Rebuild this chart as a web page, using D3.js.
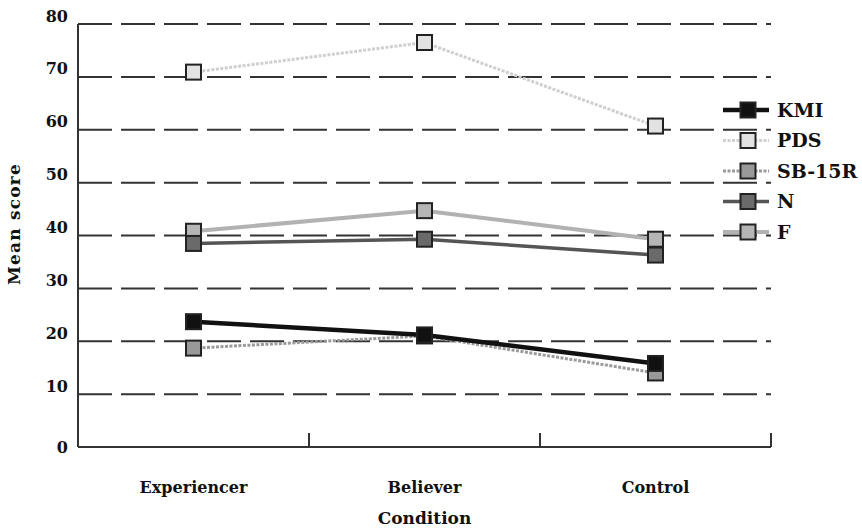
<!DOCTYPE html>
<html><head><meta charset="utf-8">
<script src="https://cdn.jsdelivr.net/npm/d3@7"></script>
<style>body{margin:0;background:#fff}svg{display:block}text{font-family:"DejaVu Serif",serif;font-weight:bold;fill:#111}</style>
</head><body><svg id="c" width="862" height="529"></svg>
<script>
const categories = ["Experiencer", "Believer", "Control"];
const seriesNames = ["KMI", "PDS", "SB-15R", "N", "F"];
const kmi   = [23.7, 21.2, 15.8];
const pds   = [70.9, 76.5, 60.7];
const sb15r = [18.7, 21.0, 14.0];
const nVals = [38.5, 39.3, 36.3];
const fVals = [40.8, 44.7, 39.3];
const yTicks = [0, 10, 20, 30, 40, 50, 60, 70, 80];
const xTitle = "Condition";
const yTitle = "Mean score";

const styles = {
  "KMI":    {line:"#111", w:4.5, dash:null,  fill:"#111"},
  "PDS":    {line:"#cfcfcf", w:3, dash:"3,1.5", fill:"#e2e2e2"},
  "SB-15R": {line:"#9a9a9a", w:3, dash:"3,1.5", fill:"#999"},
  "N":      {line:"#555", w:3.5, dash:null,  fill:"#6a6a6a"},
  "F":      {line:"#b2b2b2", w:4, dash:null, fill:"#b5b5b5"}
};
const seriesVals = {"KMI":kmi,"PDS":pds,"SB-15R":sb15r,"N":nVals,"F":fVals};
const drawOrder = ["PDS","F","N","SB-15R","KMI"];

const svg = d3.select("#c");
const x = d3.scaleBand().domain(categories).range([78, 771]);
const y = d3.scaleLinear().domain([0, 80]).range([447, 24]);

// gridlines
svg.append("g").selectAll("line").data(yTicks.filter(v => v > 0)).join("line")
  .attr("x1", 78).attr("x2", 771).attr("y1", d => y(d)).attr("y2", d => y(d))
  .attr("stroke", "#333").attr("stroke-width", 2).attr("stroke-dasharray", "34,9");

// y axis
svg.append("line").attr("x1", 78).attr("x2", 78).attr("y1", y(80)).attr("y2", y(0))
  .attr("stroke", "#333").attr("stroke-width", 2);
svg.append("g").selectAll("text").data(yTicks).join("text")
  .attr("x", 68).attr("y", d => y(d) + (d === 0 ? 0 : -8)).attr("dy", "0.35em")
  .attr("text-anchor", "end").attr("font-size", 16).text(d => d);

// x axis
svg.append("line").attr("x1", 78).attr("x2", 771).attr("y1", y(0)).attr("y2", y(0))
  .attr("stroke", "#333").attr("stroke-width", 2);
svg.append("g").selectAll("line").data(categories).join("line")
  .attr("x1", d => x(d) + x.bandwidth()).attr("x2", d => x(d) + x.bandwidth())
  .attr("y1", y(0) - 14).attr("y2", y(0))
  .attr("stroke", "#333").attr("stroke-width", 2);
svg.append("g").selectAll("text").data(categories).join("text")
  .attr("x", d => x(d) + x.bandwidth() / 2).attr("y", 493)
  .attr("text-anchor", "middle").attr("font-size", 16).text(d => d);
svg.append("text").attr("x", x("Believer") + x.bandwidth() / 2).attr("y", 524)
  .attr("text-anchor", "middle").attr("font-size", 17).text(xTitle);
svg.append("text").attr("transform", "translate(20,224) rotate(-90)")
  .attr("text-anchor", "middle").attr("font-size", 17).attr("letter-spacing", 1.2).text(yTitle);

// series
const line = d3.line().x((d, i) => x(categories[i]) + x.bandwidth() / 2).y(d => y(d));
const ms = 15;
drawOrder.forEach(name => {
  const s = styles[name], vals = seriesVals[name];
  svg.append("path").datum(vals).attr("d", line).attr("fill", "none")
    .attr("stroke", s.line).attr("stroke-width", s.w).attr("stroke-dasharray", s.dash);
  svg.append("g").selectAll("rect").data(vals).join("rect")
    .attr("x", (d, i) => x(categories[i]) + x.bandwidth() / 2 - ms / 2)
    .attr("y", d => y(d) - ms / 2).attr("width", ms).attr("height", ms)
    .attr("fill", s.fill).attr("stroke", "#222").attr("stroke-width", 2);
});

// legend
const lg = svg.append("g");
seriesNames.forEach((name, i) => {
  const s = styles[name], ly = 110 + i * 30.5;
  lg.append("line").attr("x1", 723).attr("x2", 769).attr("y1", ly).attr("y2", ly)
    .attr("stroke", s.line).attr("stroke-width", s.w).attr("stroke-dasharray", s.dash);
  lg.append("rect").attr("x", 748 - ms / 2).attr("y", ly - ms / 2).attr("width", ms).attr("height", ms)
    .attr("fill", s.fill).attr("stroke", "#222").attr("stroke-width", 2);
  lg.append("text").attr("x", 777).attr("y", ly).attr("dy", "0.35em").attr("font-size", 19).text(name);
});
</script></body></html>
